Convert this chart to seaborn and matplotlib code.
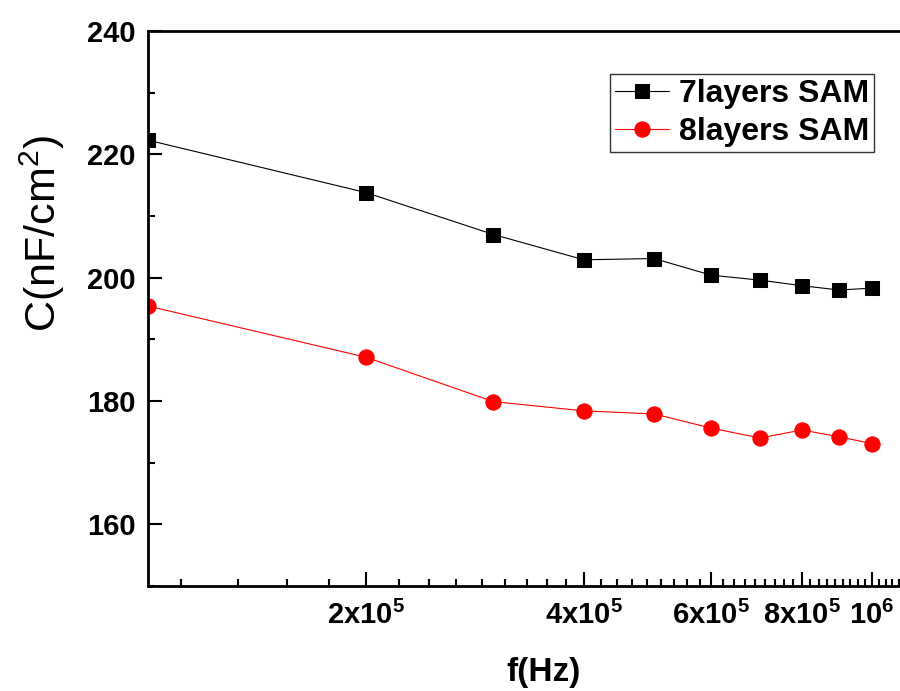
import matplotlib
matplotlib.use('Agg')
import matplotlib.pyplot as plt
import seaborn as sns
import numpy as np
from matplotlib.ticker import FixedLocator, FixedFormatter, NullFormatter

# Data
freq = [1e5, 2e5, 3e5, 4e5, 5e5, 6e5, 7e5, 8e5, 9e5, 1e6]
cap_7layers = [222.3, 213.8, 207.0, 202.9, 203.1, 200.4, 199.6, 198.7, 198.0, 198.3]
cap_8layers = [195.4, 187.1, 179.9, 178.4, 177.9, 175.6, 174.0, 175.3, 174.2, 173.1]

xticks = [2e5, 4e5, 6e5, 8e5, 1e6]
xtick_labels = [r'$\mathbf{2x10^5}$', r'$\mathbf{4x10^5}$', r'$\mathbf{6x10^5}$',
                r'$\mathbf{8x10^5}$', r'$\mathbf{10^6}$']
yticks = [160, 180, 200, 220, 240]

sns.set_style('ticks')
plt.rcParams['font.family'] = ['Liberation Sans', 'DejaVu Sans']
plt.rcParams['mathtext.fontset'] = 'custom'
plt.rcParams['mathtext.rm'] = 'Liberation Sans'
plt.rcParams['mathtext.bf'] = 'Liberation Sans:bold'
plt.rcParams['mathtext.it'] = 'Liberation Sans:italic'
plt.rcParams['text.color'] = 'black'
plt.rcParams['axes.labelcolor'] = 'black'
plt.rcParams['xtick.color'] = 'black'
plt.rcParams['ytick.color'] = 'black'

fig = plt.figure(figsize=(9, 6.91), dpi=100)
ax = fig.add_axes([148 / 900, 1 - 586 / 691, (902 - 148) / 900, (586 - 31) / 691])

sns.lineplot(x=freq, y=cap_7layers, ax=ax, color='black', linewidth=0.8,
             marker='s', markersize=10, markeredgecolor='black', label='7layers SAM')
sns.lineplot(x=freq, y=cap_8layers, ax=ax, color='red', linewidth=0.8,
             marker='o', markersize=11, markeredgecolor='red', label='8layers SAM')

ax.set_xscale('log')
ax.set_xlim(1e5, 1.1e6)
ax.set_ylim(150, 240)

# Origin style: majors every 2e5, 8 linear minors in between
step = 2e5 / 9
minors = [k * step for k in range(5, 50) if 1e5 < k * step < 1.1e6 and k % 9 != 0]
ax.xaxis.set_major_locator(FixedLocator(xticks))
ax.xaxis.set_major_formatter(FixedFormatter(xtick_labels))
ax.xaxis.set_minor_locator(FixedLocator(minors))
ax.xaxis.set_minor_formatter(NullFormatter())
ax.yaxis.set_major_locator(FixedLocator(yticks))
ax.yaxis.set_minor_locator(FixedLocator([150, 170, 190, 210, 230]))

ax.tick_params(axis='both', which='both', direction='in', width=1.5,
               colors='black', labelcolor='black')
ax.tick_params(axis='both', which='major', length=10)
ax.tick_params(axis='both', which='minor', length=5)
ax.tick_params(axis='x', which='major', labelsize=21, pad=11)
ax.tick_params(axis='y', which='major', labelsize=21, pad=9)
for lbl in ax.get_yticklabels():
    lbl.set_fontweight('bold')

for side in ['left', 'bottom', 'top']:
    ax.spines[side].set_linewidth(2)
    ax.spines[side].set_color('black')
ax.spines['right'].set_visible(False)

ax.set_xlabel('f(Hz)', fontsize=24, fontweight='bold', color='black')
ax.xaxis.set_label_coords(0.525, -0.128)
ax.set_ylabel(r'C(nF/cm$^2$)', fontsize=31, color='black')
ax.yaxis.set_label_coords(-0.108, 0.635)

leg = ax.legend(loc='upper right', bbox_to_anchor=(0.963, 0.9225), borderaxespad=0,
                frameon=True, fancybox=False, edgecolor='#333333', framealpha=1,
                prop={'weight': 'bold', 'size': 23}, handlelength=1.7,
                handletextpad=0.3, labelspacing=0.25, borderpad=0.15)
leg.get_frame().set_linewidth(1)
for t in leg.get_texts():
    t.set_color('black')

fig.savefig('out.png', dpi=100)
